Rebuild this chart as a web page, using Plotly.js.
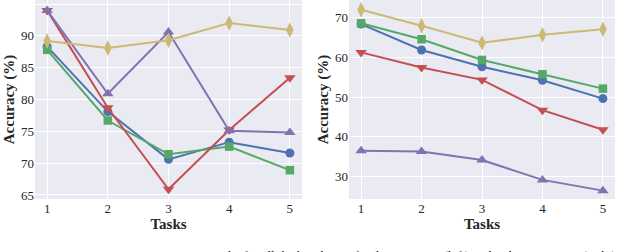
<!DOCTYPE html>
<html>
<head>
<meta charset="utf-8">
<script src="https://cdn.plot.ly/plotly-3.0.1.min.js"></script>
<style>html,body{margin:0;padding:0;background:#fff;}#chart{width:640px;height:252px;}</style>
</head>
<body>
<div id="chart"></div>
<script>
// Tasks (x axis)
const tasks = [1, 2, 3, 4, 5];
const taskTickLabels = ["1", "2", "3", "4", "5"];

// Split CIFAR10 (left panel)
const c10_blue   = [88.3, 78.1, 70.6, 73.3, 71.6];
const c10_green  = [87.8, 76.7, 71.4, 72.6, 68.9];
const c10_red    = [94.0, 78.7, 65.9, 75.2, 83.4];
const c10_purple = [94.0, 80.9, 90.6, 75.1, 74.8];
const c10_yellow = [89.2, 88.1, 89.3, 92.0, 90.9];

// Split CIFAR100 (right panel)
const c100_blue   = [68.3, 61.8, 57.6, 54.2, 49.6];
const c100_green  = [68.5, 64.5, 59.3, 55.7, 52.1];
const c100_red    = [61.2, 57.4, 54.3, 46.7, 41.8];
const c100_purple = [36.5, 36.3, 34.2, 29.2, 26.5];
const c100_yellow = [71.9, 67.9, 63.6, 65.6, 67.0];

const leftTicks = [65, 70, 75, 80, 85, 90, 95];
const rightTicks = [30, 40, 50, 60, 70];

const captionText = "average accuracy results for all the baselines of Split CIFAR10 (left) and Split CIFAR100 (right).";

const styles = [
  {color: "#4C72B0", symbol: "circle", size: 9},
  {color: "#55A868", symbol: "square", size: 8.5},
  {color: "#C44E52", symbol: "triangle-down", size: 10},
  {color: "#8172B2", symbol: "triangle-up", size: 10},
  {color: "#CCB974", symbol: "diamond-tall", size: 11}
];

const leftSeries = [c10_blue, c10_green, c10_red, c10_purple, c10_yellow];
const rightSeries = [c100_blue, c100_green, c100_red, c100_purple, c100_yellow];

const traces = [];
leftSeries.forEach((ys, i) => traces.push({
  x: tasks, y: ys, type: "scatter", mode: "lines+markers", xaxis: "x", yaxis: "y",
  line: {color: styles[i].color, width: 2},
  marker: {color: styles[i].color, symbol: styles[i].symbol, size: styles[i].size, line: {width: 0}},
  showlegend: false, hoverinfo: "skip"
}));
rightSeries.forEach((ys, i) => traces.push({
  x: tasks, y: ys, type: "scatter", mode: "lines+markers", xaxis: "x2", yaxis: "y2",
  line: {color: styles[i].color, width: 2},
  marker: {color: styles[i].color, symbol: styles[i].symbol, size: styles[i].size, line: {width: 0}},
  showlegend: false, hoverinfo: "skip"
}));

const tickFont = {family: "Liberation Serif, Times New Roman, serif", size: 13, color: "#262626"};
const titleFont = {family: "Liberation Serif, Times New Roman, serif", size: 15, color: "#262626", weight: "bold"};

function xax(domain, anchor) {
  return {
    domain: domain, anchor: anchor, range: [0.8, 5.2],
    tickvals: tasks, ticktext: taskTickLabels, ticks: "", tickfont: tickFont,
    showgrid: true, gridcolor: "#FFFFFF", gridwidth: 1, zeroline: false, showline: false,
    title: {text: "<b>Tasks</b>", font: titleFont, standoff: 2}
  };
}
function yax(anchor, range, ticks) {
  return {
    domain: [0, 1], anchor: anchor, range: range,
    tickvals: ticks, ticks: "", tickfont: tickFont,
    showgrid: true, gridcolor: "#FFFFFF", gridwidth: 1, zeroline: false, showline: false,
    title: {text: "<b>Accuracy (%)</b>", font: titleFont, standoff: 2}
  };
}

const layout = {
  width: 640, height: 252,
  margin: {l: 0, r: 0, t: 0, b: 53},
  paper_bgcolor: "#FFFFFF", plot_bgcolor: "#EAEAF2",
  font: tickFont,
  xaxis: xax([35/640, 302/640], "y"),
  yaxis: yax("x", [64.37, 95.63], leftTicks),
  xaxis2: xax([349/640, 615/640], "y2"),
  yaxis2: yax("x2", [24.4, 74.35], rightTicks),
  annotations: [{
    xref: "paper", yref: "paper", x: 112/640, y: (199 - 246.5) / 199, xanchor: "left", yanchor: "top",
    text: captionText, showarrow: false, borderpad: 0,
    font: {family: "Liberation Serif, Times New Roman, serif", size: 13, color: "#000000"}
  }]
};

Plotly.newPlot("chart", traces, layout, {staticPlot: true, displayModeBar: false});
</script>
</body>
</html>
